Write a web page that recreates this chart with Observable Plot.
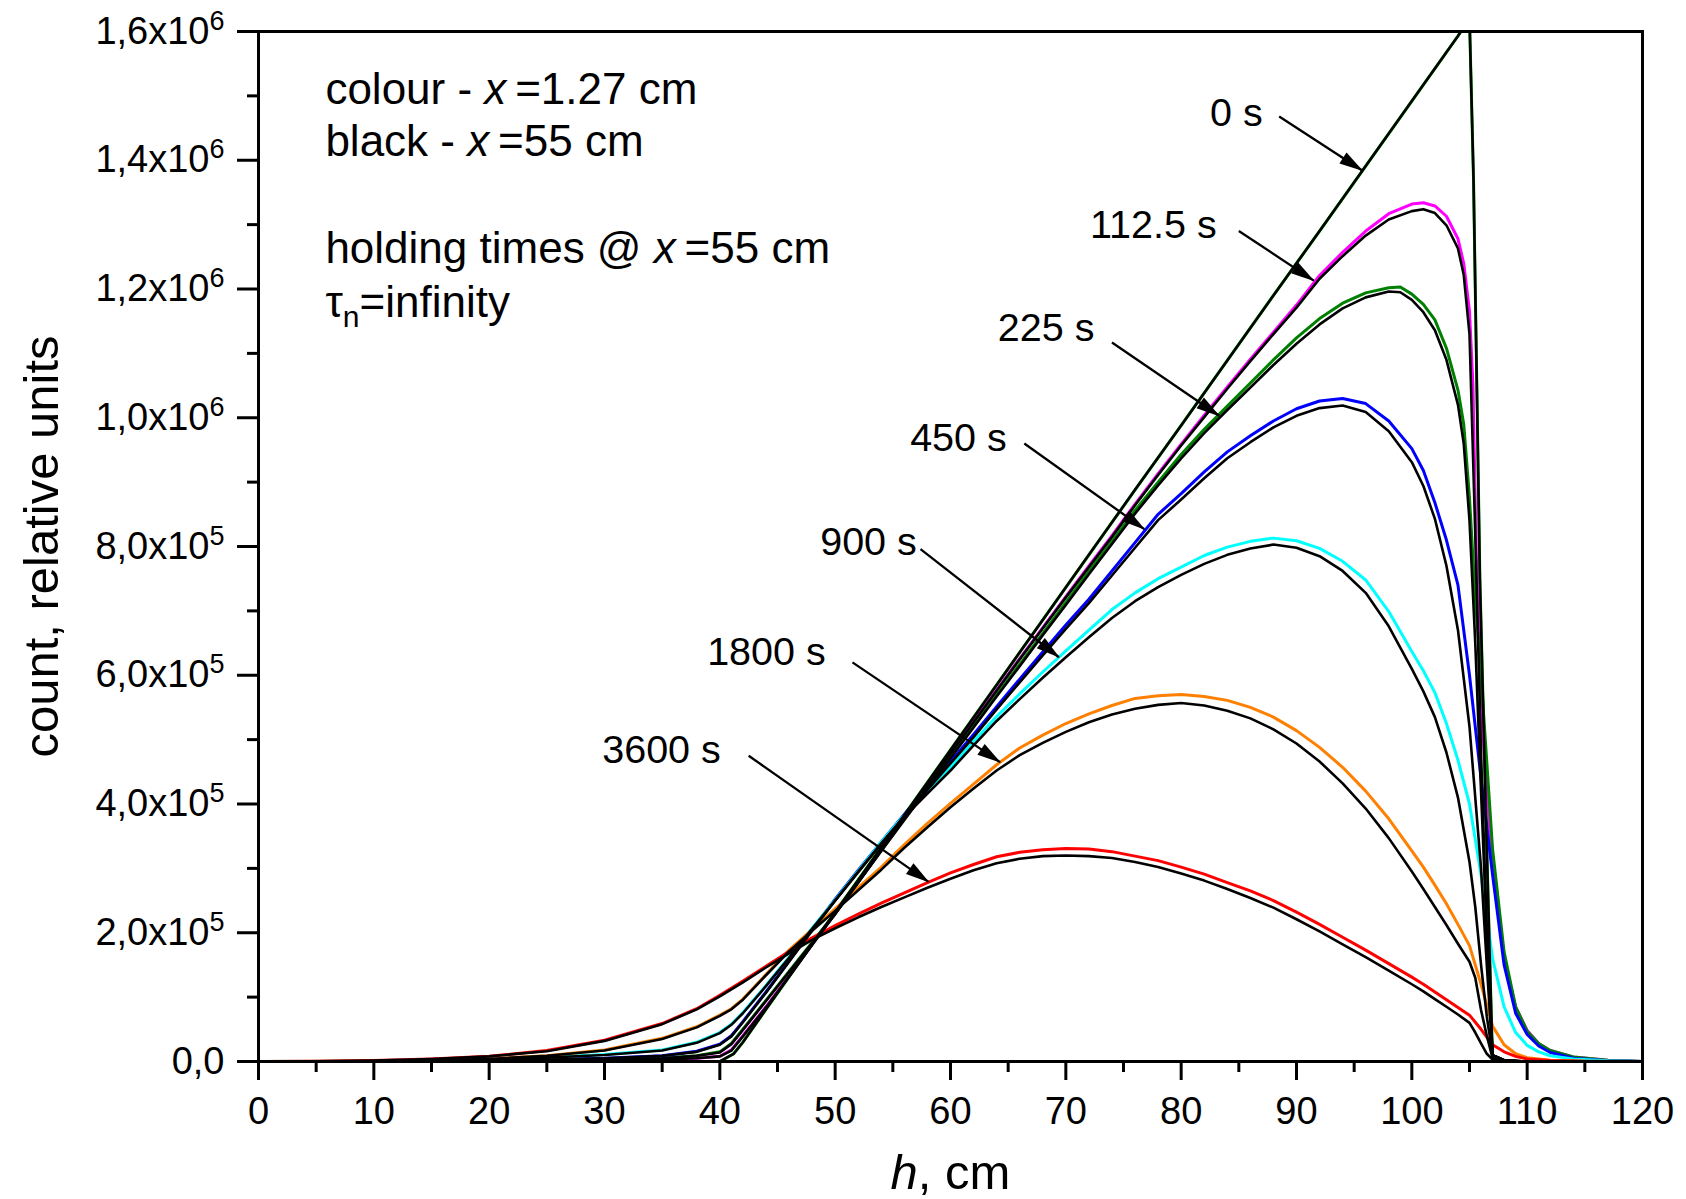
<!DOCTYPE html>
<html><head><meta charset="utf-8">
<script src="https://cdn.jsdelivr.net/npm/d3@7"></script>
<script src="https://cdn.jsdelivr.net/npm/@observablehq/plot@0.6"></script>
<style>html,body{margin:0;padding:0;background:#fff;}</style>
</head><body><div id="chart"></div>
<script>
// ---------------- data (h in cm, count in units of 10^6) ----------------
const xTicks = [0,10,20,30,40,50,60,70,80,90,100,110,120];
const xMinorTicks = [5,15,25,35,45,55,65,75,85,95,105,115];
const yTicks = [0,0.2,0.4,0.6,0.8,1.0,1.2,1.4,1.6];
const yMinorTicks = [0.1,0.3,0.5,0.7,0.9,1.1,1.3,1.5];
const yTickLabels = ["0,0","2,0x10|sup:5","4,0x10|sup:5","6,0x10|sup:5","8,0x10|sup:5","1,0x10|sup:6","1,2x10|sup:6","1,4x10|sup:6","1,6x10|sup:6"];

const holdingTimes = ["0 s","112.5 s","225 s","450 s","900 s","1800 s","3600 s"];

// colour curves: x = 1.27 cm
const c0 = [[0,0],[40,0],[41.2,0.012],[42,0.03],[44,0.081],[48,0.182],[52,0.282],[56,0.383],[60,0.484],[64,0.585],[68,0.686],[72,0.787],[76,0.888],[80,0.988],[84,1.089],[88,1.19],[92,1.29],[96,1.391],[100,1.492],[104,1.593],[105,1.62],[105.35,1.37],[105.9,0.75],[106.5,0.33],[107,0],[120,0]];
const c112 = [[0,0],[10,0],[20,0.0005],[30,0.001],[35,0.003],[38,0.005],[40,0.008],[41,0.018],[42,0.04],[44,0.085],[46,0.133],[48,0.182],[50,0.23],[52,0.279],[54,0.329],[56,0.379],[58,0.429],[60,0.479],[62,0.528],[64,0.577],[66,0.626],[68,0.674],[70,0.722],[72,0.77],[74,0.817],[76,0.866],[78,0.913],[80,0.959],[82,1.004],[84,1.048],[86,1.091],[88,1.133],[90,1.175],[92,1.221],[94,1.257],[96,1.29],[98,1.317],[100,1.332],[101,1.334],[102,1.329],[103,1.313],[104,1.278],[104.5,1.24],[105,1.165],[105.3,1.05],[105.6,0.78],[106,0.55],[107,0.3],[108,0.16],[109,0.085],[110,0.048],[111,0.028],[112,0.017],[114,0.007],[117,0.002],[120,0]];
const c225 = [[0,0],[10,0],[20,0.001],[30,0.002],[35,0.005],[38,0.009],[40,0.015],[41,0.028],[42,0.05],[44,0.095],[46,0.14],[48,0.185],[50,0.23],[52,0.279],[54,0.328],[56,0.377],[58,0.425],[60,0.473],[62,0.521],[64,0.569],[66,0.617],[68,0.665],[70,0.713],[72,0.761],[74,0.808],[76,0.856],[78,0.9],[80,0.943],[82,0.982],[84,1.018],[86,1.054],[88,1.09],[90,1.124],[92,1.154],[94,1.178],[96,1.194],[98,1.202],[99,1.203],[100,1.192],[101,1.176],[102,1.152],[103,1.108],[104,1.043],[104.5,0.99],[105,0.875],[105.5,0.72],[106,0.6],[107,0.33],[108,0.17],[109,0.085],[110,0.047],[111,0.028],[112,0.017],[114,0.007],[117,0.002],[120,0]];
const c450 = [[0,0],[10,0],[20,0.001],[30,0.005],[35,0.009],[38,0.016],[40,0.027],[41,0.04],[42,0.062],[44,0.108],[46,0.156],[48,0.205],[50,0.252],[52,0.297],[54,0.341],[56,0.384],[58,0.425],[60,0.466],[62,0.508],[64,0.551],[66,0.594],[68,0.636],[70,0.678],[72,0.718],[74,0.762],[76,0.806],[78,0.85],[80,0.882],[82,0.916],[84,0.947],[86,0.972],[88,0.995],[90,1.014],[92,1.026],[94,1.03],[96,1.022],[98,0.995],[100,0.952],[101,0.918],[102,0.868],[103,0.81],[104,0.74],[105,0.6],[106,0.44],[107,0.29],[108,0.15],[109,0.075],[110,0.042],[111,0.024],[112,0.014],[114,0.005],[117,0.001],[120,0]];
const c900 = [[0,0],[10,0.0005],[20,0.002],[30,0.011],[35,0.018],[38,0.03],[40,0.045],[41,0.058],[42,0.076],[44,0.118],[46,0.162],[48,0.207],[50,0.251],[52,0.296],[54,0.341],[56,0.383],[58,0.42],[60,0.457],[62,0.497],[64,0.536],[66,0.571],[68,0.605],[70,0.638],[72,0.67],[74,0.702],[76,0.728],[78,0.75],[80,0.768],[82,0.786],[84,0.799],[86,0.808],[88,0.813],[90,0.809],[92,0.797],[94,0.777],[96,0.748],[98,0.699],[100,0.637],[101,0.607],[102,0.573],[103,0.525],[104,0.468],[105,0.4],[106,0.29],[107,0.16],[108,0.085],[109,0.045],[110,0.025],[111,0.015],[112,0.009],[114,0.004],[117,0.001],[120,0]];
const c1800 = [[0,0],[10,0.0005],[20,0.004],[25,0.009],[30,0.018],[35,0.036],[38,0.054],[40,0.072],[41,0.082],[42,0.097],[44,0.135],[46,0.173],[48,0.205],[50,0.237],[52,0.27],[54,0.302],[56,0.337],[58,0.37],[60,0.401],[62,0.431],[64,0.461],[66,0.487],[68,0.507],[70,0.525],[72,0.54],[74,0.553],[76,0.564],[78,0.568],[80,0.57],[82,0.567],[84,0.561],[86,0.55],[88,0.535],[90,0.514],[92,0.488],[94,0.457],[96,0.42],[98,0.377],[100,0.327],[101,0.302],[102,0.274],[103,0.245],[104,0.213],[105,0.18],[106,0.12],[107,0.055],[108,0.026],[109,0.012],[110,0.006],[112,0.002],[115,0.0005],[120,0]];
const c3600 = [[0,0],[5,0.0005],[10,0.0015],[15,0.004],[20,0.008],[25,0.017],[30,0.033],[35,0.059],[38,0.082],[40,0.103],[42,0.125],[44,0.148],[46,0.171],[48,0.192],[50,0.211],[52,0.229],[54,0.246],[56,0.262],[58,0.278],[60,0.293],[62,0.306],[64,0.318],[66,0.325],[68,0.329],[70,0.331],[72,0.33],[74,0.326],[76,0.319],[78,0.312],[80,0.302],[82,0.291],[84,0.278],[86,0.265],[88,0.25],[90,0.232],[92,0.213],[94,0.193],[96,0.173],[98,0.152],[100,0.131],[101,0.12],[102,0.108],[103,0.096],[104,0.084],[105,0.072],[106,0.05],[107,0.026],[108,0.015],[109,0.008],[110,0.004],[112,0.0015],[115,0.0005],[120,0]];

// black curves: x = 55 cm
const k0 = [[0,0],[40,0],[41.2,0.012],[42,0.03],[44,0.081],[48,0.182],[52,0.282],[56,0.383],[60,0.484],[64,0.585],[68,0.686],[72,0.787],[76,0.888],[80,0.988],[84,1.089],[88,1.19],[92,1.29],[96,1.391],[100,1.492],[104,1.593],[105,1.62],[105.35,1.37],[105.9,0.75],[106.5,0.33],[107,0],[120,0]];
const k112 = [[0,0],[10,0],[20,0.0005],[30,0.001],[35,0.003],[38,0.005],[40,0.008],[41,0.017],[42,0.039],[44,0.084],[46,0.132],[48,0.181],[50,0.229],[52,0.278],[54,0.328],[56,0.378],[58,0.428],[60,0.478],[62,0.527],[64,0.576],[66,0.625],[68,0.673],[70,0.721],[72,0.768],[74,0.815],[76,0.864],[78,0.911],[80,0.957],[82,1.001],[84,1.045],[86,1.088],[88,1.13],[90,1.171],[92,1.216],[94,1.251],[96,1.283],[98,1.308],[100,1.321],[101,1.324],[102,1.318],[103,1.299],[104,1.263],[104.5,1.222],[105,1.13],[105.5,0.82],[106,0.48],[106.5,0.2],[107,0.01],[108,0.002],[110,0],[120,0]];
const k225 = [[0,0],[10,0],[20,0.001],[30,0.002],[35,0.005],[38,0.009],[40,0.014],[41,0.027],[42,0.049],[44,0.094],[46,0.139],[48,0.184],[50,0.229],[52,0.278],[54,0.327],[56,0.375],[58,0.423],[60,0.471],[62,0.519],[64,0.567],[66,0.614],[68,0.662],[70,0.709],[72,0.757],[74,0.804],[76,0.851],[78,0.895],[80,0.937],[82,0.976],[84,1.012],[86,1.047],[88,1.082],[90,1.115],[92,1.145],[94,1.17],[96,1.187],[98,1.196],[99,1.195],[100,1.183],[101,1.164],[102,1.136],[103,1.09],[104,1.02],[104.5,0.96],[105,0.84],[105.5,0.65],[106,0.42],[106.5,0.2],[107,0.01],[108,0.002],[110,0],[120,0]];
const k450 = [[0,0],[10,0],[20,0.001],[30,0.005],[35,0.009],[38,0.015],[40,0.026],[41,0.039],[42,0.061],[44,0.107],[46,0.155],[48,0.203],[50,0.25],[52,0.295],[54,0.339],[56,0.381],[58,0.422],[60,0.463],[62,0.504],[64,0.547],[66,0.589],[68,0.631],[70,0.672],[72,0.712],[74,0.755],[76,0.798],[78,0.841],[80,0.873],[82,0.906],[84,0.937],[86,0.962],[88,0.985],[90,1.003],[92,1.015],[94,1.019],[96,1.009],[98,0.979],[100,0.931],[101,0.894],[102,0.843],[103,0.77],[104,0.67],[105,0.52],[106,0.3],[106.5,0.15],[107,0.01],[108,0.002],[110,0],[120,0]];
const k900 = [[0,0],[10,0.0005],[20,0.002],[30,0.01],[35,0.017],[38,0.029],[40,0.044],[41,0.057],[42,0.075],[44,0.117],[46,0.161],[48,0.206],[50,0.25],[52,0.294],[54,0.338],[56,0.38],[58,0.416],[60,0.452],[62,0.491],[64,0.529],[66,0.563],[68,0.596],[70,0.628],[72,0.659],[74,0.689],[76,0.715],[78,0.737],[80,0.756],[82,0.773],[84,0.787],[86,0.797],[88,0.803],[90,0.798],[92,0.785],[94,0.762],[96,0.728],[98,0.676],[100,0.61],[101,0.575],[102,0.535],[103,0.48],[104,0.41],[105,0.31],[105.5,0.24],[106,0.15],[106.5,0.07],[107,0.01],[108,0.002],[110,0],[120,0]];
const k1800 = [[0,0],[10,0.0005],[20,0.004],[25,0.009],[30,0.017],[35,0.035],[38,0.053],[40,0.071],[41,0.081],[42,0.096],[44,0.134],[46,0.171],[48,0.203],[50,0.234],[52,0.266],[54,0.298],[56,0.332],[58,0.364],[60,0.395],[62,0.424],[64,0.452],[66,0.476],[68,0.495],[70,0.512],[72,0.527],[74,0.539],[76,0.548],[78,0.554],[80,0.557],[82,0.553],[84,0.545],[86,0.533],[88,0.516],[90,0.494],[92,0.466],[94,0.432],[96,0.393],[98,0.347],[100,0.295],[101,0.268],[102,0.24],[103,0.212],[104,0.183],[105,0.155],[105.5,0.13],[106,0.08],[106.5,0.04],[107,0.005],[108,0.001],[110,0],[120,0]];
const k3600 = [[0,0],[5,0.0005],[10,0.0015],[15,0.004],[20,0.008],[25,0.016],[30,0.032],[35,0.058],[38,0.081],[40,0.101],[42,0.123],[44,0.146],[46,0.168],[48,0.189],[50,0.207],[52,0.224],[54,0.24],[56,0.255],[58,0.27],[60,0.284],[62,0.297],[64,0.308],[66,0.315],[68,0.319],[70,0.32],[72,0.319],[74,0.316],[76,0.31],[78,0.302],[80,0.292],[82,0.281],[84,0.268],[86,0.254],[88,0.239],[90,0.221],[92,0.202],[94,0.182],[96,0.162],[98,0.141],[100,0.12],[101,0.109],[102,0.097],[103,0.085],[104,0.073],[105,0.06],[105.5,0.045],[106,0.028],[106.5,0.012],[107,0.003],[108,0.001],[110,0],[120,0]];

// annotation anchors (data coordinates)
const labelPos   = [[82.5,1.473],[72.1,1.299],[64.1,1.139],[56.5,0.968],[48.7,0.807],[38.9,0.636],[29.8,0.483]];
const arrowFrom  = [[88.5,1.468],[85.0,1.290],[74.0,1.117],[66.4,0.960],[57.4,0.796],[51.5,0.620],[42.5,0.475]];
const arrowTo    = [[95.7,1.384],[91.5,1.213],[83.3,1.003],[76.8,0.827],[69.4,0.628],[64.3,0.465],[58.1,0.279]];

const noteLines = ["colour - |i:x|\u2009=1.27 cm","black - |i:x|\u2009=55 cm","holding times @ |i:x|\u2009=55 cm","τ|sub:n|=infinity"];
const notePos   = [[5.8,1.488],[5.8,1.406],[5.8,1.241],[5.8,1.156]];

// ---------------- styles ----------------
const colourCurves = [c0,c112,c225,c450,c900,c1800,c3600];
const blackCurves  = [k0,k112,k225,k450,k900,k1800,k3600];
const colours = ["#00b000","#ff00ff","#008000","#0000ff","#00ffff","#ff8000","#ff0000"];
const FONT = "'Liberation Sans', Arial, Helvetica, sans-serif";

const yLabelMap = new Map(yTicks.map((v,i)=>[v, yTickLabels[i]]));

const marks = [];
colourCurves.forEach((c,i)=>{
  marks.push(Plot.line(c, {x: d=>d[0], y: d=>d[1], stroke: colours[i], strokeWidth: 3, clip: true}));
});
blackCurves.forEach((c)=>{
  marks.push(Plot.line(c, {x: d=>d[0], y: d=>d[1], stroke: "black", strokeWidth: 2.6, clip: true}));
});

const arrows = arrowFrom.map((a,i)=>({x1:a[0], y1:a[1], x2:arrowTo[i][0], y2:arrowTo[i][1]}));
marks.push(Plot.link(arrows, {x1:"x1", y1:"y1", x2:"x2", y2:"y2", stroke:"black", strokeWidth:2.3, markerEnd:"arrow"}));

marks.push(Plot.text(holdingTimes.map((t,i)=>({t, x:labelPos[i][0], y:labelPos[i][1]})),
  {x:"x", y:"y", text:"t", textAnchor:"start", lineAnchor:"middle", fontSize:39.5, fill:"black"}));

marks.push(Plot.text(noteLines.map((t,i)=>({t, x:notePos[i][0], y:notePos[i][1]})),
  {x:"x", y:"y", text:"t", textAnchor:"start", lineAnchor:"bottom", fontSize:44, fill:"black"}));

// axes
marks.push(Plot.axisX({ticks: xTicks, tickSize: 19, tickPadding: 17, strokeWidth: 3, tickFormat: d=>String(d), label: null}));
marks.push(Plot.axisX({ticks: xMinorTicks, tickSize: 11, strokeWidth: 3, tickFormat: ()=>"", label: null}));
marks.push(Plot.axisY({ticks: yTicks, tickSize: 21, tickPadding: 13, strokeWidth: 3, tickFormat: d=>yLabelMap.get(d), label: null}));
marks.push(Plot.axisY({ticks: yMinorTicks, tickSize: 11, strokeWidth: 3, tickFormat: ()=>"", label: null}));
marks.push(Plot.frame({stroke:"black", strokeWidth:3}));

// axis titles
marks.push(Plot.text(["count, relative units"], {text: d=>d, frameAnchor:"left", dx:-201, rotate:-90, textAnchor:"middle", lineAnchor:"bottom", fontSize:49, fill:"black"}));
marks.push(Plot.text(["|i:h|, cm"], {text: d=>d, frameAnchor:"bottom", dy:127, textAnchor:"middle", lineAnchor:"bottom", fontSize:49, fill:"black"}));

const plot = Plot.plot({
  width: 1686, height: 1199,
  marginLeft: 258, marginRight: 44, marginTop: 31, marginBottom: 138,
  x: {domain: [0,120]},
  y: {domain: [0,1.6]},
  style: {fontFamily: FONT, fontSize: "38px", background: "white", color: "black", overflow: "visible"},
  marks
});

// rich text: italics, superscripts, subscripts
const NS = "http://www.w3.org/2000/svg";
plot.querySelectorAll("text").forEach(t=>{
  if (t.querySelector("tspan")) return;
  const s = t.textContent;
  if (!s.includes("|")) return;
  const parts = s.split("|").filter(p=>p.length);
  t.textContent = "";
  let shift = 0;
  for (const p of parts) {
    const ts = document.createElementNS(NS, "tspan");
    let txt = p, dy = 0;
    if (p.startsWith("i:")) { txt = p.slice(2); ts.setAttribute("font-style","italic"); }
    else if (p.startsWith("sup:")) { txt = p.slice(4); ts.setAttribute("font-size","27"); dy = -14; }
    else if (p.startsWith("sub:")) { txt = p.slice(4); ts.setAttribute("font-size","30"); dy = 10; }
    const need = dy - shift;
    if (need) ts.setAttribute("dy", need);
    shift = dy;
    ts.textContent = txt;
    t.appendChild(ts);
  }
});

// filled arrow heads
plot.querySelectorAll("marker").forEach(m=>{
  m.setAttribute("markerUnits","userSpaceOnUse");
  m.setAttribute("viewBox","-24 -7 26 14");
  m.setAttribute("markerWidth","26");
  m.setAttribute("markerHeight","14");
  m.setAttribute("refX","0");
  m.setAttribute("refY","0");
  m.setAttribute("orient","auto");
  m.setAttribute("fill","black");
  m.setAttribute("stroke","none");
  while (m.firstChild) m.removeChild(m.firstChild);
  const p = document.createElementNS(NS,"path");
  p.setAttribute("d","M-23,-6.5L1,0L-23,6.5Z");
  m.appendChild(p);
});

document.getElementById("chart").appendChild(plot);
</script>
</body></html>
